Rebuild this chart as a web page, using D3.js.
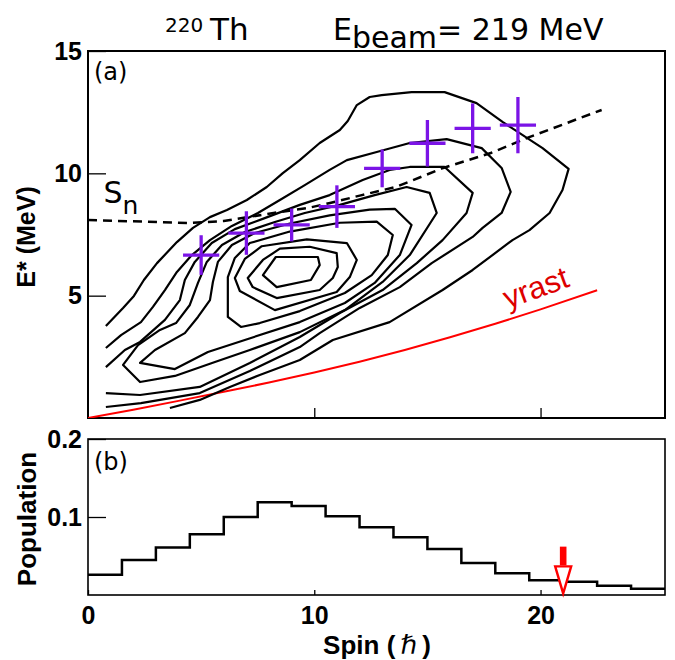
<!DOCTYPE html>
<html><head><meta charset="utf-8">
<script src="https://cdn.jsdelivr.net/npm/d3@7"></script>
<style>body{margin:0;background:#fff} svg{display:block}</style>
</head><body>
<svg id="c" width="675" height="660"></svg>
<script>
// ---------------- data ----------------
const spinDomain = [0, 25.5];
const energyDomain = [0, 15];
const popDomain = [0, 0.2];
const energyTicks = [5, 10, 15];
const popTicks = [0.1, 0.2];
const spinTicks = [0, 10, 20];

// measured points (spin, E*) with error bars
const pointSpin = [5, 7, 9, 11, 13, 15, 17, 19];
const pointE = [6.66, 7.56, 7.89, 8.64, 10.2, 11.23, 11.84, 11.97];
const pointSpinErr = [0.8, 0.8, 0.8, 0.8, 0.8, 0.8, 0.8, 0.8];
const pointEErr = [0.81, 0.89, 0.67, 0.87, 0.77, 0.95, 1.02, 1.15];

// neutron separation energy S_n
const snSpin = [0, 4.5, 6, 8.2, 9.7, 10.7, 12.1, 13.6, 15.7, 17.8, 19.5, 22.7];
const snE = [8.09, 7.97, 8.05, 8.38, 8.58, 8.79, 9.11, 9.44, 10.22, 10.83, 11.48, 12.59];

// yrast line
const yrastSpin = [0, 2, 4, 6, 8, 10, 12, 14, 16, 18, 20, 22.5];
const yrastE = [0, 0.34, 0.7, 1.07, 1.45, 1.86, 2.3, 2.78, 3.3, 3.85, 4.44, 5.22];

// contour lines (spin, E*) — outer ones open, inner ones closed
const contourC1 = [[0.79,3.76],[1.55,4.50],[2.03,4.99],[2.47,5.64],[3.05,6.33],[3.93,7.19],[4.64,7.77],[5.39,8.21],[6.14,8.50],[7.02,8.91],[7.90,9.44],[8.61,10.01],[9.36,10.54],[10.24,11.24],[11.13,11.77],[11.48,12.14],[11.88,12.79],[12.45,13.12],[12.98,13.20],[14.30,13.32],[15.76,13.32],[17.17,12.87],[18.32,12.10],[20.09,11.03],[21.24,10.18],[20.97,9.32],[20.40,8.38],[19.51,7.68],[18.76,7.27],[17.00,6.05],[15.67,5.23],[13.33,3.92],[10.82,3.19],[9.36,2.37],[7.59,1.76],[6.27,1.27],[4.94,0.74],[3.62,0.41]];
const contourC2 = [[0.79,2.86],[1.46,3.39],[2.34,3.92],[2.87,4.54],[3.40,5.23],[3.93,5.97],[4.59,6.66],[5.39,7.27],[6.36,7.85],[7.51,8.38],[8.48,8.91],[9.58,9.52],[10.68,10.14],[11.44,10.54],[12.76,10.87],[14.22,11.24],[15.85,11.40],[17.40,11.03],[18.28,10.22],[18.68,9.24],[18.28,8.38],[17.44,7.77],[17.00,7.40],[15.19,6.33],[13.78,5.35],[12.01,4.50],[10.24,3.47],[9.36,2.90],[7.15,1.92],[4.94,1.02],[2.34,0.61],[0.79,0.45]];
const contourC3 = [[0.79,2.08],[1.63,2.78],[2.30,3.11],[3.40,4.01],[4.06,4.82],[4.28,5.64],[4.72,6.38],[5.47,7.15],[6.49,7.72],[7.81,8.17],[9.36,8.71],[10.68,9.11],[12.14,9.73],[13.33,10.14],[14.22,10.26],[15.76,10.26],[17.00,9.20],[16.73,8.38],[15.67,7.27],[14.53,6.33],[13.02,5.23],[11.13,4.29],[9.36,3.31],[7.15,2.25],[4.94,1.27],[2.30,0.94],[0.79,1.02]];
const contourD = [[1.55,2.17],[2.21,2.98],[3.18,3.60],[3.89,3.88],[4.50,4.62],[4.86,5.52],[5.25,6.38],[5.92,7.07],[6.93,7.60],[8.26,8.01],[9.58,8.38],[11.13,8.71],[12.67,9.11],[14.08,9.44],[15.10,9.20],[15.41,8.38],[14.22,6.66],[13.02,5.56],[11.35,4.41],[9.36,3.51],[7.15,2.78],[5.61,2.29],[3.84,1.72],[2.30,1.47]];
const contourE = [[2.30,2.25],[2.96,2.78],[4.28,3.47],[4.86,4.13],[5.39,4.82],[5.52,5.56],[5.74,6.38],[6.36,7.07],[7.37,7.56],[8.92,7.95],[10.68,8.28],[12.45,8.52],[13.56,8.55],[14.30,7.89],[13.78,6.66],[12.67,5.52],[11.35,4.70],[9.36,3.92],[6.93,3.19],[5.30,2.70],[3.84,2.00]];
const contourL4 = [[6.18,5.76],[6.49,6.54],[7.15,7.15],[8.92,7.62],[11.13,7.98],[12.76,8.03],[13.47,7.48],[13.25,6.66],[12.54,5.84],[11.35,5.11],[9.36,4.37],[7.59,3.88],[6.76,3.72],[6.18,4.13]];
const contourL3 = [[6.49,5.72],[6.93,6.50],[7.68,7.02],[9.67,7.30],[11.44,7.15],[11.88,6.46],[11.57,5.76],[10.99,5.15],[8.26,4.41],[6.71,5.19]];
const contourL2 = [[7.06,5.72],[7.73,6.46],[8.48,6.92],[9.80,7.00],[10.99,6.74],[11.04,6.17],[10.82,5.72],[10.24,5.23],[8.34,4.90],[7.28,5.35]];
const contourL1 = [[7.73,5.84],[8.30,6.58],[10.16,6.58],[10.24,6.25],[9.85,5.64],[8.34,5.35]];
const openContours = [contourC1, contourC2, contourC3];
const closedContours = [contourD, contourE, contourL4, contourL3, contourL2, contourL1];

// spin population histogram (bin width 1.5)
const binStart = [0, 1.5, 3, 4.5, 6, 7.5, 9, 10.5, 12, 13.5, 15, 16.5, 18, 19.5, 21, 22.5, 24];
const binEnd = 25.5;
const population = [0.026, 0.045, 0.061, 0.078, 0.100, 0.119, 0.114, 0.101, 0.087, 0.074, 0.059, 0.041, 0.028, 0.019, 0.017, 0.012, 0.008];

// arrow marker in panel (b)
const arrowSpin = 21;
const arrowLevels = [0.062, 0.038, 0.002]; // shaft top, head top, tip

// ---------------- drawing ----------------
const svg = d3.select('#c');
const L = 88, R = 665;
const aTop = 51, aBot = 418, bTop = 439, bBot = 595;

const x = d3.scaleLinear().domain(spinDomain).range([L, R]);
const yA = d3.scaleLinear().domain(energyDomain).range([aBot, aTop]);
const yB = d3.scaleLinear().domain(popDomain).range([bBot, bTop]);

const tickFont = "'Liberation Sans', Arial, Helvetica, sans-serif";
const textFont = "'DejaVu Sans', Verdana, sans-serif";

// axes panel (a)
const axA = svg.append('g').attr('transform', `translate(${L},0)`)
  .call(d3.axisLeft(yA).tickValues(energyTicks).tickSize(-18).tickPadding(6).tickFormat(d3.format('d')));
const axAx = svg.append('g').attr('transform', `translate(0,${aBot})`)
  .call(d3.axisBottom(x).tickValues([10, 20]).tickSize(-10).tickFormat(''));
// axes panel (b)
const axB = svg.append('g').attr('transform', `translate(${L},0)`)
  .call(d3.axisLeft(yB).tickValues(popTicks).tickSize(-18).tickPadding(6).tickFormat(d3.format('.1f')));
const axBx = svg.append('g').attr('transform', `translate(0,${bBot})`)
  .call(d3.axisBottom(x).tickValues(spinTicks).tickSize(-5).tickPadding(11).tickFormat(d3.format('d')));

[axA, axAx, axB, axBx].forEach(g => {
  g.select('.domain').remove();
  g.selectAll('.tick line').attr('stroke', '#000').attr('stroke-width', 1.3);
  g.selectAll('.tick text').attr('font-family', tickFont).attr('font-weight', 'bold')
    .attr('font-size', 25).attr('fill', '#000');
});

// frames
svg.append('rect').attr('x', L).attr('y', aTop).attr('width', R - L).attr('height', aBot - aTop)
  .attr('fill', 'none').attr('stroke', '#000').attr('stroke-width', 2);
svg.append('rect').attr('x', L).attr('y', bTop).attr('width', R - L).attr('height', bBot - bTop)
  .attr('fill', 'none').attr('stroke', '#000').attr('stroke-width', 1.6);

// clip for panel a
svg.append('clipPath').attr('id', 'clipA').append('rect')
  .attr('x', L).attr('y', aTop).attr('width', R - L).attr('height', aBot - aTop);
const gA = svg.append('g').attr('clip-path', 'url(#clipA)');

// yrast
const yrast = yrastSpin.map((s, i) => [s, yrastE[i]]);
gA.append('path').datum(yrast)
  .attr('d', d3.line().x(d => x(d[0])).y(d => yA(d[1])))
  .attr('fill', 'none').attr('stroke', '#ff0000').attr('stroke-width', 2);

// contours
const lineOpen = d3.line().x(d => x(d[0])).y(d => yA(d[1]));
const lineClosed = d3.line().x(d => x(d[0])).y(d => yA(d[1])).curve(d3.curveLinearClosed);
gA.selectAll('path.open').data(openContours).join('path').attr('class', 'open')
  .attr('d', lineOpen).attr('fill', 'none').attr('stroke', '#000').attr('stroke-width', 2.2)
  .attr('stroke-linejoin', 'round');
gA.selectAll('path.closed').data(closedContours).join('path').attr('class', 'closed')
  .attr('d', lineClosed).attr('fill', 'none').attr('stroke', '#000').attr('stroke-width', 2.2)
  .attr('stroke-linejoin', 'round');

// S_n dashed
const sn = snSpin.map((s, i) => [s, snE[i]]);
gA.append('path').datum(sn)
  .attr('d', d3.line().x(d => x(d[0])).y(d => yA(d[1])))
  .attr('fill', 'none').attr('stroke', '#000').attr('stroke-width', 2.5)
  .attr('stroke-dasharray', '9,6');

// crosses
const purple = '#7b14e6';
const pts = pointSpin.map((s, i) => ({s, e: pointE[i], ds: pointSpinErr[i], de: pointEErr[i]}));
const gp = gA.append('g').attr('stroke', purple).attr('stroke-width', 3.3);
gp.selectAll('line.h').data(pts).join('line').attr('class', 'h')
  .attr('x1', d => x(d.s - d.ds)).attr('x2', d => x(d.s + d.ds))
  .attr('y1', d => yA(d.e)).attr('y2', d => yA(d.e));
gp.selectAll('line.v').data(pts).join('line').attr('class', 'v')
  .attr('x1', d => x(d.s)).attr('x2', d => x(d.s))
  .attr('y1', d => yA(d.e - d.de)).attr('y2', d => yA(d.e + d.de));

// labels panel a
svg.append('text').attr('x', L + 6).attr('y', aTop + 29).attr('font-family', textFont)
  .attr('font-size', 24).text('(a)');
const snLab = svg.append('text').attr('x', x(0.68)).attr('y', yA(8.79))
  .attr('font-family', textFont).attr('font-size', 30);
snLab.append('tspan').text('S');
snLab.append('tspan').attr('font-size', 25).attr('dy', 11).text('n');

svg.append('text').attr('transform', `translate(${x(18.55)},${yA(4.45)}) rotate(-20)`)
  .attr('font-family', tickFont).attr('font-size', 31).attr('fill', '#dd0000').text('yrast');

// histogram
const hist = binStart.map((b, i) => [b, population[i]]);
hist.push([binEnd, population[population.length - 1]]);
svg.append('path').datum(hist)
  .attr('d', d3.line().x(d => x(d[0])).y(d => yB(d[1])).curve(d3.curveStepAfter))
  .attr('fill', 'none').attr('stroke', '#000').attr('stroke-width', 2.5);

// arrow
const ax0 = x(arrowSpin);
svg.append('rect').attr('x', ax0 - 3.3).attr('width', 6.6)
  .attr('y', yB(arrowLevels[0])).attr('height', yB(arrowLevels[1]) - yB(arrowLevels[0]))
  .attr('fill', '#ff0000');
svg.append('path')
  .attr('d', `M${ax0 - 8},${yB(arrowLevels[1]) + 1}L${ax0 + 8},${yB(arrowLevels[1]) + 1}L${ax0},${yB(arrowLevels[2])}Z`)
  .attr('fill', '#fff').attr('stroke', '#ff0000').attr('stroke-width', 2.4).attr('stroke-linejoin', 'miter');

svg.append('text').attr('x', L + 6).attr('y', bTop + 31).attr('font-family', textFont)
  .attr('font-size', 24).text('(b)');

// axis titles
svg.append('text').attr('transform', `translate(35,237) rotate(-90)`).attr('text-anchor', 'middle')
  .attr('font-family', tickFont).attr('font-weight', 'bold').attr('font-size', 25).text('E* (MeV)');
svg.append('text').attr('transform', `translate(36,519) rotate(-90)`).attr('text-anchor', 'middle')
  .attr('font-family', tickFont).attr('font-weight', 'bold').attr('font-size', 26).text('Population');
const sl = svg.append('text').attr('x', 377).attr('y', 654).attr('text-anchor', 'middle')
  .attr('font-family', tickFont).attr('font-weight', 'bold').attr('font-size', 26);
sl.append('tspan').text('Spin (');
sl.append('tspan').attr('font-family', textFont).attr('font-weight', 'normal').attr('font-style', 'italic').text('\u2009ℏ\u2009');
sl.append('tspan').text(')');

// title
svg.append('text').attr('x', 165).attr('y', 32).attr('font-family', textFont).attr('font-size', 20).text('220');
svg.append('text').attr('x', 210).attr('y', 40).attr('font-family', textFont).attr('font-size', 31).text('Th');
const tt = svg.append('text').attr('x', 333).attr('y', 40).attr('font-family', textFont).attr('font-size', 30);
tt.append('tspan').text('E');
tt.append('tspan').attr('dy', 8).text('beam');
tt.append('tspan').attr('dy', -8).text('= 219 MeV');
</script>
</body></html>
